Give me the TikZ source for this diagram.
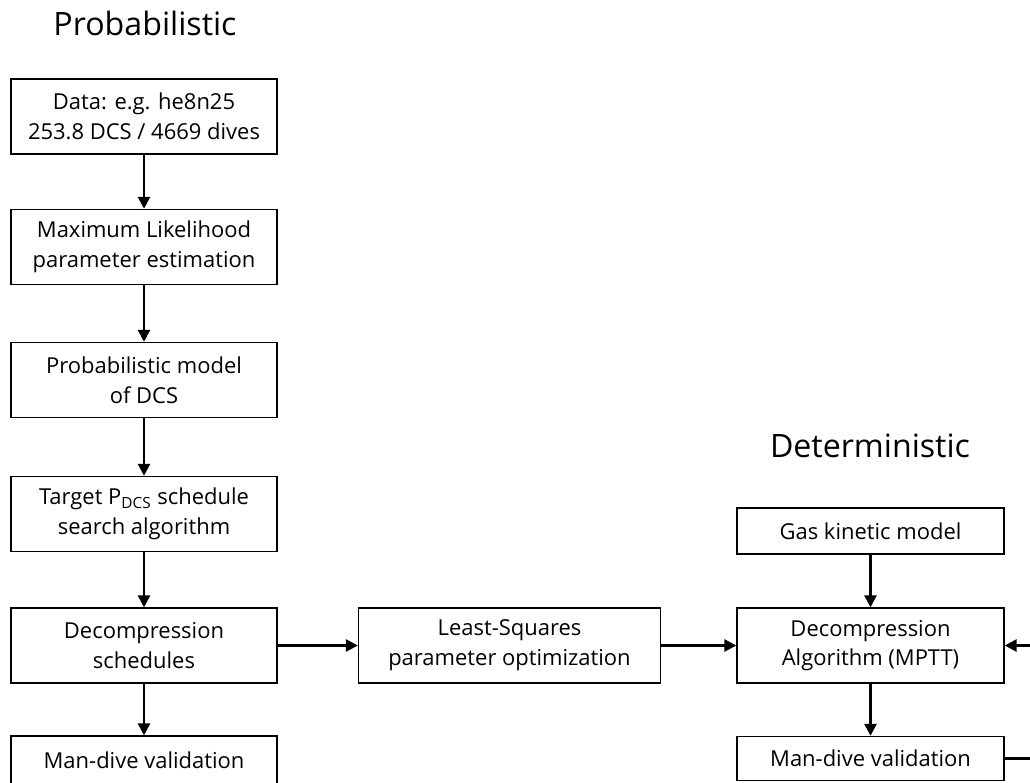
\documentclass[tikz,border=0pt]{standalone}
\usepackage{fontspec}
\setmainfont{Open Sans}
\usetikzlibrary{arrows.meta}

\begin{document}
\begin{tikzpicture}[x=0.02cm, y=0.02cm,
  blk/.style={draw, line width=0.8pt, align=center, inner sep=0pt,
    minimum width=5.32cm, minimum height=1.5cm,
    font=\fontsize{12.5}{17}\selectfont},
  ttl/.style={font=\fontsize{18.3}{22}\selectfont, inner sep=0pt},
  flow/.style={-{Triangle[length=0.24cm, width=0.24cm]}, line width=1.5pt}]
 \useasboundingbox (0,0) rectangle (1030,-782);
 % probabilistic side
 \node[ttl, anchor=base] (tp) at (145,-35) {Probabilistic};
 \node[blk] (data) at (144,-116.5) {Data: e.g. he8n25\\253.8 DCS / 4669 dives};
 \node[blk] (mle) at (144,-247) {Maximum  Likelihood\\parameter estimation};
 \node[blk] (pmod) at (144,-380) {Probabilistic model\\of DCS};
 \node[blk] (srch) at (144,-514) {Target P\textsubscript{DCS} schedule\\search algorithm};
 \node[blk] (sched) at (144,-645.5) {Decompression\\schedules};
 \node[blk, minimum height=0.96cm] (valL) at (144,-760) {Man-dive validation};
 % least squares
 \node[blk, minimum width=6.04cm] (lsq) at (509.5,-645.5) {Least-Squares\\parameter optimization};
 % deterministic side
 \node[ttl, anchor=base] (td) at (870,-457) {Deterministic};
 \node[blk, minimum width=5.34cm, minimum height=0.92cm] (gas) at (870.5,-531) {Gas kinetic model};
 \node[blk, minimum width=5.34cm] (mptt) at (870.5,-645.5) {Decompression\\Algorithm (MPTT)};
 \node[blk, minimum width=5.34cm, minimum height=0.88cm] (valR) at (870.5,-758.5) {Man-dive validation};
 \coordinate (fb1) at (1050,-758.5);
 \coordinate (fb2) at (1050,-645.5);
 \path[flow]
  (data) edge (mle)
  (mle) edge (pmod)
  (pmod) edge (srch)
  (srch) edge (sched)
  (sched) edge (valL)
  (sched) edge (lsq)
  (lsq) edge (mptt)
  (gas) edge (mptt)
  (mptt) edge (valR);
 \draw[flow] (valR.east) -- (fb1) -- (fb2) -- (mptt.east);
\end{tikzpicture}
\end{document}
